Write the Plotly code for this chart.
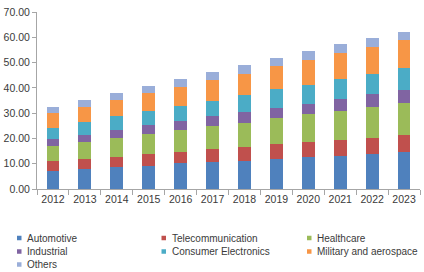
import plotly.graph_objects as go

years = ["2012", "2013", "2014", "2015", "2016", "2017", "2018", "2019", "2020", "2021", "2022", "2023"]

automotive = [7.3, 7.9, 8.6, 9.2, 10.2, 10.6, 11.2, 11.8, 12.5, 13.2, 14.0, 14.5]
telecommunication = [3.9, 4.1, 4.2, 4.7, 4.5, 5.1, 5.6, 6.0, 5.9, 6.2, 6.3, 6.9]
healthcare = [6.0, 6.5, 7.5, 7.9, 8.7, 9.3, 9.5, 10.1, 11.1, 11.5, 12.3, 12.8]
industrial = [2.7, 3.0, 3.2, 3.4, 3.5, 3.9, 4.2, 4.3, 4.3, 4.6, 4.8, 4.9]
consumer_electronics = [4.3, 5.1, 5.2, 5.7, 6.0, 6.1, 6.6, 7.3, 7.5, 8.1, 8.2, 8.9]
military_aerospace = [5.8, 6.0, 6.6, 7.0, 7.4, 8.2, 8.5, 9.0, 9.7, 10.0, 10.7, 10.9]
others = [2.6, 2.7, 2.7, 2.8, 3.3, 3.0, 3.3, 3.4, 3.4, 3.6, 3.4, 3.3]

series_names = ["Automotive", "Telecommunication", "Healthcare", "Industrial",
                "Consumer Electronics", "Military and aerospace", "Others"]
series_values = [automotive, telecommunication, healthcare, industrial,
                 consumer_electronics, military_aerospace, others]
series_colors = ["#4F81BD", "#C0504D", "#9BBB59", "#8064A2", "#4BACC6", "#F79646", "#9AAED9"]

W, H = 424, 272
ML, MR, MT, MB = 37, 4, 12, 83
PW, PH = W - ML - MR, H - MT - MB

fig = go.Figure()
for name, vals, color in zip(series_names, series_values, series_colors):
    fig.add_trace(go.Bar(x=years, y=vals, name=name, showlegend=False,
                         marker=dict(color=color, line=dict(width=0))))

font = dict(family="Liberation Sans, Arial, sans-serif", size=10.5, color="#3A3A3A")
legend_font = dict(family="Liberation Sans, Arial, sans-serif", size=10, color="#3A3A3A")

# Legend (3 columns, drawn as small squares + text below the plot)
col_marker_px = [17, 161.5, 307]
col_text_px = [25, 169.5, 314.5]
row_center_px = [238, 251.5, 264.5]
sq = 4.5

def px_to_paper_x(px):
    return (px - ML) / PW

def py_to_paper_y(py):
    return (H - MB - py) / PH

shapes = []
annotations = []
for i, (name, color) in enumerate(zip(series_names, series_colors)):
    r, c = divmod(i, 3)
    cy = row_center_px[r]
    mx = col_marker_px[c]
    shapes.append(dict(
        type="rect", xref="paper", yref="paper",
        x0=px_to_paper_x(mx), x1=px_to_paper_x(mx + sq),
        y0=py_to_paper_y(cy + sq / 2), y1=py_to_paper_y(cy - sq / 2),
        fillcolor=color, line=dict(width=0),
    ))
    annotations.append(dict(
        text=name, xref="paper", yref="paper",
        x=px_to_paper_x(col_text_px[c]), y=py_to_paper_y(cy),
        xanchor="left", yanchor="middle", showarrow=False,
        font=legend_font,
    ))

fig.update_layout(
    barmode="stack",
    bargap=0.6,
    width=W,
    height=H,
    margin=dict(l=ML, r=MR, t=MT, b=MB),
    paper_bgcolor="white",
    plot_bgcolor="white",
    font=font,
    showlegend=False,
    shapes=shapes,
    annotations=annotations,
    xaxis=dict(
        showgrid=False,
        showline=True,
        linecolor="#A6A6A6",
        linewidth=1,
        ticks="outside",
        tickson="boundaries",
        ticklen=5,
        tickcolor="#A6A6A6",
        tickangle=0,
        tickfont=font,
    ),
    yaxis=dict(
        range=[0, 70],
        dtick=10,
        tickformat=".2f",
        showgrid=False,
        zeroline=False,
        showline=True,
        linecolor="#A6A6A6",
        linewidth=1,
        ticks="outside",
        ticklen=4,
        tickcolor="#A6A6A6",
        tickfont=font,
    ),
)

fig.write_html("out.html")
